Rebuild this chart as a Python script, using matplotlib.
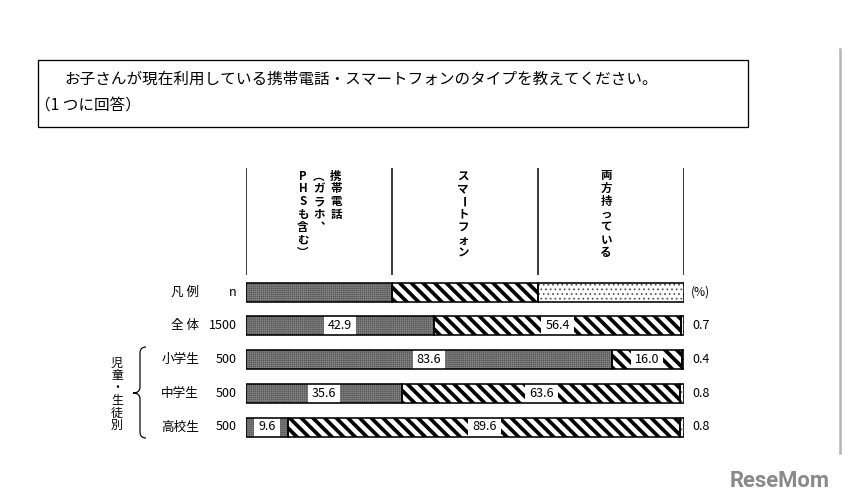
import numpy as np
import matplotlib
matplotlib.use("Agg")
import matplotlib.pyplot as plt
from matplotlib.transforms import Affine2D, blended_transform_factory
from matplotlib.path import Path
from matplotlib.patches import PathPatch, Rectangle

plt.rcParams['font.family'] = ['Noto Sans CJK JP', 'DejaVu Sans']

# ---------------- data ----------------
title_line1 = "お子さんが現在利用している携帯電話・スマートフォンのタイプを教えてください。"
title_line2 = "（1 つに回答）"
legend_label = "凡例"
categories = ["全体", "小学生", "中学生", "高校生"]
n_values = [1500, 500, 500, 500]
feature_phone = [42.9, 83.6, 35.6, 9.6]
smartphone = [56.4, 16.0, 63.6, 89.6]
both = [0.7, 0.4, 0.8, 0.8]
legend_widths = [33.3, 33.3, 33.4]
header_cols = [["携帯電話", "（ガラホ、", "PHSも含む）"], ["スマートフォン"], ["両方持っている"]]
group_label = "児童・生徒別"

# ---------------- figure ----------------
W, H, DPI = 842, 504, 140
fig = plt.figure(figsize=(W / DPI, H / DPI), dpi=DPI)
fig.patch.set_facecolor('white')
T = Affine2D().scale(1 / W, -1 / H).translate(0, 1) + fig.transFigure  # pixel coords, top-left origin


def pt(px):
    return px * 72 / DPI


# title box
fig.add_artist(Rectangle((38, 60), 710, 67, transform=T, fill=False, edgecolor='black', linewidth=pt(1.3)))
fig.text(64, 79, title_line1, transform=T, fontsize=pt(15.6), va='center', ha='left')
fig.text(35, 106, title_line2, transform=T, fontsize=pt(15.6), va='center', ha='left')

# right gray rule and watermark
fig.add_artist(plt.Line2D([840, 840], [49, 453], transform=T, color='#b5b5b5', linewidth=pt(2.5)))
fig.text(830, 481, "ReseMom", transform=T, fontsize=pt(22), fontweight='bold', color='#8a8a8a',
         ha='right', va='center', family=['Roboto', 'DejaVu Sans'])

# bar axes
row_c0, row_dy = 292, 33.75
y_top, y_bot = 160, 445
ax = fig.add_axes([246 / W, 1 - y_bot / H, 438 / W, (y_bot - y_top) / H])
ax.set_xlim(0, 100)
ax.set_ylim((y_bot - row_c0) / row_dy, (y_top - row_c0) / row_dy)
ax.axis('off')

bh = 19 / row_dy

styles = [
    dict(color='#8a8a8a', edgecolor='#5c5c5c', hatch='+' * 12, hlw=0.3),
    dict(color='white', edgecolor='black', hatch='\\' * 4, hlw=1.9),
    dict(color='white', edgecolor='#555555', hatch='.....', hlw=0.5),
]


def segment(y, left, width, st):
    with plt.rc_context({'hatch.linewidth': st['hlw']}):
        ax.barh(y, width, left=left, height=bh, color=st['color'], edgecolor=st['edgecolor'],
                hatch=st['hatch'], linewidth=0, zorder=2)
    ax.barh(y, width, left=left, height=bh, fill=False, edgecolor='black', linewidth=pt(1.6), zorder=7)


# legend row
left = 0
for w, st in zip(legend_widths, styles):
    segment(0, left, w, st)
    left += w

# data rows
rows = np.arange(1, len(categories) + 1)
box = dict(boxstyle='square,pad=0.32', facecolor='white', edgecolor='none')
fs = pt(12.6)
for y, a, b, c in zip(rows, feature_phone, smartphone, both):
    segment(y, 0, a, styles[0])
    segment(y, a, b, styles[1])
    segment(y, a + b, c, styles[2])
    ax.text(a / 2, y, f"{a:.1f}", ha='center', va='center', fontsize=fs, bbox=box, zorder=5)
    ax.text(a + b / 2, y, f"{b:.1f}", ha='center', va='center', fontsize=fs, bbox=box, zorder=5)

# header dividers
ax.vlines(np.linspace(0, 100, 4), (168 - row_c0) / row_dy, (275 - row_c0) / row_dy,
          color='black', linewidth=pt(1.5))

# vertical header text
col_x = [[336, 319, 303], [463], [606]]
for texts, xs in zip(header_cols, col_x):
    for s, x in zip(texts, xs):
        for i, ch in enumerate(s):
            rot = 0
            if ch == '（':
                ch = '︵'
            elif ch == '）':
                ch = '︶'
            elif ch == '、':
                ch = '︑'
            elif ch == 'ー':
                rot = -90
            fig.text(x, 176 + 12.8 * i, ch, transform=T, fontsize=pt(11.5), ha='center', va='center',
                     fontweight='bold', rotation=rot)

# left labels (x in pixels, y in data rows)
BT = blended_transform_factory(T, ax.transData)
fig.text(199, 0, " ".join(legend_label), transform=BT, fontsize=fs, ha='right', va='center')
fig.text(237, 0, "n", transform=BT, fontsize=fs, ha='right', va='center')
for y, cat, n in zip(rows, categories, n_values):
    fig.text(199, y, " ".join(cat) if len(cat) == 2 else cat, transform=BT, fontsize=fs, ha='right', va='center')
    fig.text(237, y, f"{n}", transform=BT, fontsize=fs, ha='right', va='center')

# right values
fig.text(691, 0, "(%)", transform=BT, fontsize=pt(12), ha='left', va='center')
for y, c in zip(rows, both):
    fig.text(692, y, f"{c:.1f}", transform=BT, fontsize=fs, ha='left', va='center')

# group label and brace
for i, ch in enumerate(group_label):
    fig.text(117, 363 + 12.5 * i, ch, transform=T, fontsize=pt(12), ha='center', va='center')

verts = [(146, 347), (140, 347), (140, 353), (140, 387), (140, 393), (133, 393),
         (140, 393), (140, 399), (140, 432), (140, 438), (146, 438)]
codes = [Path.MOVETO, Path.CURVE3, Path.CURVE3, Path.LINETO, Path.CURVE3, Path.CURVE3,
         Path.CURVE3, Path.CURVE3, Path.LINETO, Path.CURVE3, Path.CURVE3]
fig.add_artist(PathPatch(Path(verts, codes), transform=T, fill=False, edgecolor='black', linewidth=pt(1.2)))

fig.savefig("out.png", dpi=DPI, facecolor='white')
